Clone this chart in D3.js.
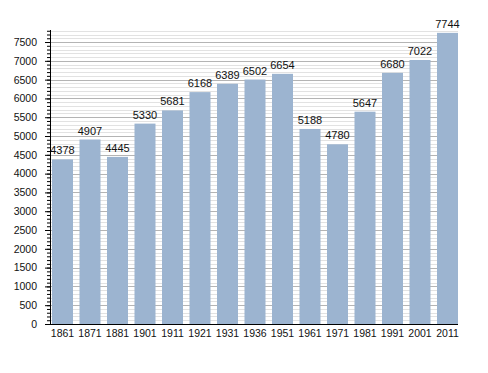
<!DOCTYPE html>
<html>
<head>
<meta charset="utf-8">
<script src="https://cdn.jsdelivr.net/npm/d3@7.9.0/dist/d3.min.js"></script>
<style>
  body { margin: 0; background: #fff; }
  svg { display: block; font-family: "Liberation Sans", Arial, sans-serif; }
</style>
</head>
<body>
<svg id="chart" width="488" height="373"></svg>
<script>
// Data
const years = ['1861', '1871', '1881', '1901', '1911', '1921', '1931', '1936', '1951', '1961', '1971', '1981', '1991', '2001', '2011'];
const population = [4378, 4907, 4445, 5330, 5681, 6168, 6389, 6502, 6654, 5188, 4780, 5647, 6680, 7022, 7744];
const yTicks = d3.range(0, 7501, 500);

const width = 488, height = 373;
const plotLeft = 50, plotRight = 458, plotTop = 30, plotBottom = 324;

const svg = d3.select('#chart');

const x = d3.scaleBand()
  .domain(years)
  .range([48.75, 461.25])
  .paddingInner(0.236)
  .paddingOuter(0.118);

const y = d3.scaleLinear()
  .domain([0, 7820])
  .range([plotBottom, plotTop]);

// Grid: minor every 100, major every 500
const grid = svg.append('g');
grid.selectAll('line.minor')
  .data(d3.range(100, 7801, 100).filter((d) => d % 500 !== 0))
  .join('line')
  .attr('x1', plotLeft)
  .attr('x2', plotRight)
  .attr('y1', (d) => Math.round(y(d)) + 0.5)
  .attr('y2', (d) => Math.round(y(d)) + 0.5)
  .attr('stroke', '#e2e2e2');

grid.selectAll('line.major')
  .data(yTicks.slice(1))
  .join('line')
  .attr('x1', plotLeft)
  .attr('x2', plotRight)
  .attr('y1', (d) => Math.round(y(d)) + 0.5)
  .attr('y2', (d) => Math.round(y(d)) + 0.5)
  .attr('stroke', '#b4b4b4');

// Bars
svg.append('g')
  .selectAll('rect')
  .data(population)
  .join('rect')
  .attr('x', (d, i) => x(years[i]))
  .attr('y', (d) => y(d))
  .attr('width', x.bandwidth())
  .attr('height', (d) => y(0) - y(d))
  .attr('fill', '#9cb4d0');

// Value labels
svg.append('g')
  .selectAll('text')
  .data(population)
  .join('text')
  .attr('x', (d, i) => x(years[i]) + x.bandwidth() / 2)
  .attr('y', (d) => y(d) - 5)
  .attr('text-anchor', 'middle')
  .attr('font-size', 11)
  .attr('fill', '#111')
  .text((d) => d);

// Y axis with minor ticks
const yAxis = svg.append('g')
  .attr('transform', `translate(${plotLeft},0)`);

yAxis.append('g')
  .call(d3.axisLeft(y).tickValues(d3.range(0, 7801, 100)).tickSize(3).tickFormat(''))
  .call((g) => g.select('.domain').remove());

yAxis.append('g')
  .call(d3.axisLeft(y).tickValues(yTicks).tickSize(5).tickPadding(8).tickFormat(d3.format('d')))
  .call((g) => g.select('.domain').attr('d', `M0.5,${plotBottom}V${plotTop}`))
  .call((g) => g.selectAll('text').attr('font-size', 10.5).attr('fill', '#111'));

yAxis.selectAll('line').attr('stroke', '#000');

// X axis
svg.append('g')
  .attr('transform', `translate(0,${plotBottom})`)
  .call(d3.axisBottom(x).tickSize(0).tickPadding(6))
  .call((g) => g.select('.domain').attr('d', `M${plotLeft},0.5H${plotRight}`))
  .call((g) => g.selectAll('text').attr('font-size', 10.5).attr('fill', '#111'));
</script>
</body>
</html>
